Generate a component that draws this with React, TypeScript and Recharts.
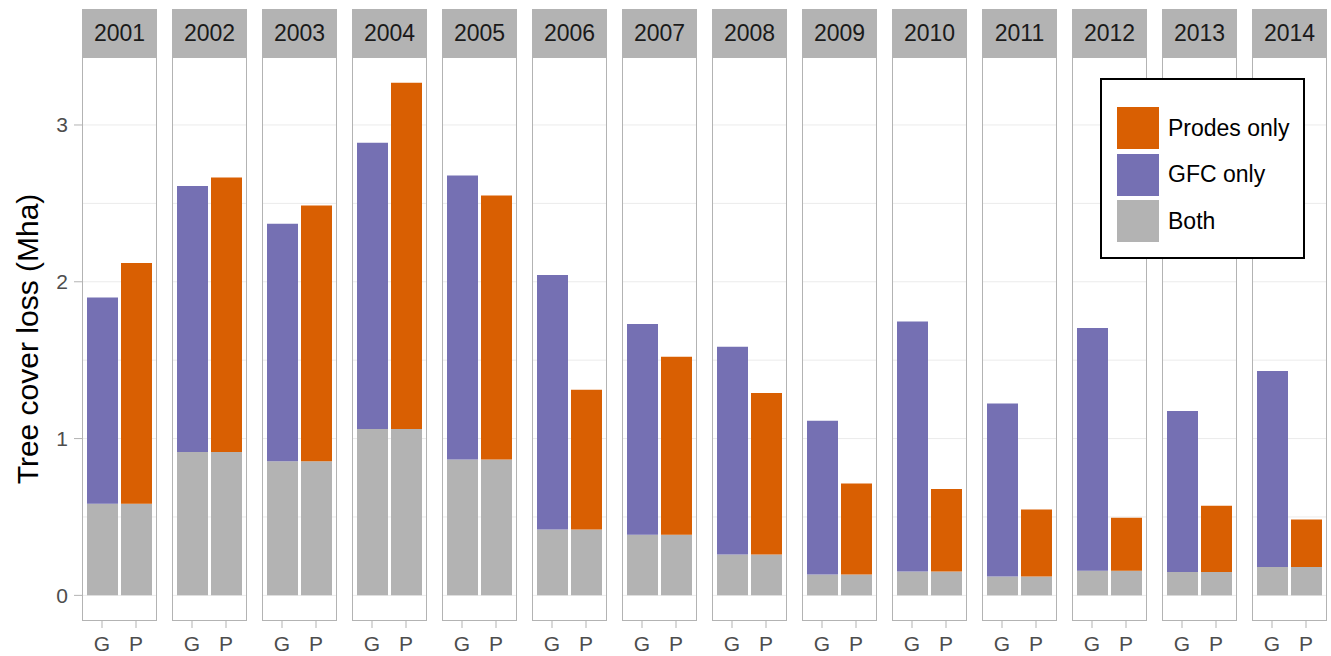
import React from 'react'
import { Bar, BarChart, CartesianGrid, XAxis, YAxis } from 'recharts'

// values (Mha)
const years = ['2001', '2002', '2003', '2004', '2005', '2006', '2007', '2008', '2009', '2010', '2011', '2012', '2013', '2014']
const sources = ['G', 'P']
const bothLoss = [0.585, 0.915, 0.856, 1.061, 0.867, 0.42, 0.386, 0.261, 0.133, 0.152, 0.12, 0.157, 0.149, 0.181]
const gfcOnly = [1.315, 1.695, 1.514, 1.825, 1.811, 1.623, 1.345, 1.324, 0.981, 1.595, 1.103, 1.548, 1.027, 1.25]
const prodesOnly = [1.535, 1.75, 1.631, 2.209, 1.683, 0.891, 1.135, 1.029, 0.58, 0.526, 0.428, 0.338, 0.423, 0.303]

const yTicks = [0, 1, 2, 3]
const gridValues = [0, 0.5, 1, 1.5, 2, 2.5, 3]

const legendItems = [
	{ name: 'Prodes only', color: '#d95f02' },
	{ name: 'GFC only', color: '#7570b3' },
	{ name: 'Both', color: '#b3b3b3' },
]

const FONT = '"Liberation Sans", Arial, Helvetica, sans-serif'
const AXIS_W = 82
const PANEL_W = 75
const PANEL_STEP = 90
const PANEL_TOP = 57
const PANEL_H = 564
const XAXIS_H = 35
const DOMAIN: [number, number] = [-0.1635, 3.4335]

const panelData = (i: number) => [
	{ source: sources[0], both: bothLoss[i], gfc: gfcOnly[i], prodes: 0 },
	{ source: sources[1], both: bothLoss[i], gfc: 0, prodes: prodesOnly[i] },
]

const YLabel = () => (
	<text
		x={27}
		y={PANEL_H / 2}
		transform={`rotate(-90, 27, ${PANEL_H / 2})`}
		textAnchor="middle"
		dominantBaseline="central"
		fontSize={30}
		fill="#000"
		fontFamily={FONT}
	>
		Tree cover loss (Mha)
	</text>
)

const Panel = ({ i }: { i: number }) => {
	const first = i === 0
	const left = first ? 0 : AXIS_W + i * PANEL_STEP
	return (
		<div style={{ position: 'absolute', left, top: PANEL_TOP }}>
			<BarChart
				width={(first ? AXIS_W : 0) + PANEL_W}
				height={PANEL_H + XAXIS_H}
				data={panelData(i)}
				margin={{ top: 0, right: 0, bottom: 0, left: 0 }}
				barSize={31}
			>
				<CartesianGrid vertical={false} horizontalValues={gridValues} stroke="#ebebeb" />
				<XAxis
					dataKey="source"
					height={XAXIS_H}
					padding={{ left: 3, right: 4 }}
					axisLine={false}
					tickSize={7}
					tickMargin={8}
					tickLine={{ stroke: '#b3b3b3' }}
					tick={{ fill: '#4d4d4d', fontSize: 21, fontFamily: FONT }}
				/>
				<YAxis
					type="number"
					domain={DOMAIN}
					allowDataOverflow
					ticks={yTicks}
					hide={!first}
					width={AXIS_W}
					axisLine={false}
					tickSize={8}
					tickMargin={6}
					tickLine={{ stroke: '#b3b3b3' }}
					tick={{ fill: '#4d4d4d', fontSize: 21, fontFamily: FONT }}
					label={first ? { content: () => <YLabel /> } : undefined}
				/>
				<Bar dataKey="both" stackId="a" fill="#b3b3b3" isAnimationActive={false} />
				<Bar dataKey="gfc" stackId="a" fill="#7570b3" isAnimationActive={false} />
				<Bar dataKey="prodes" stackId="a" fill="#d95f02" isAnimationActive={false} />
			</BarChart>
		</div>
	)
}

const App = () => {
	return (
		<div style={{ position: 'absolute', left: 0, top: 0, width: 1331, height: 656, background: '#fff', fontFamily: FONT }}>
			{years.map((year, i) => (
				<Panel key={year} i={i} />
			))}
			{years.map((year, i) => (
				<React.Fragment key={`f-${year}`}>
					<div
						style={{
							position: 'absolute',
							left: AXIS_W + i * PANEL_STEP,
							top: 9,
							width: PANEL_W,
							height: PANEL_TOP - 9,
							background: '#b3b3b3',
							color: '#1a1a1a',
							fontSize: 23,
							lineHeight: `${PANEL_TOP - 9}px`,
							textAlign: 'center',
						}}
					>
						{year}
					</div>
					<div
						style={{
							position: 'absolute',
							left: AXIS_W + i * PANEL_STEP,
							top: PANEL_TOP,
							width: PANEL_W,
							height: PANEL_H,
							boxSizing: 'border-box',
							border: '1px solid #b3b3b3',
							pointerEvents: 'none',
						}}
					/>
				</React.Fragment>
			))}
			<div
				style={{
					position: 'absolute',
					left: 1100,
					top: 78,
					width: 205,
					height: 181,
					boxSizing: 'border-box',
					border: '2px solid #000',
					background: '#fff',
				}}
			>
				{legendItems.map((item, k) => (
					<div key={item.name} style={{ position: 'absolute', left: 15, top: 27 + k * 46.5, height: 42, display: 'flex', alignItems: 'center' }}>
						<div style={{ width: 42, height: 42, background: item.color }} />
						<span style={{ marginLeft: 9, fontSize: 23, color: '#000' }}>{item.name}</span>
					</div>
				))}
			</div>
		</div>
	)
}

export default App
